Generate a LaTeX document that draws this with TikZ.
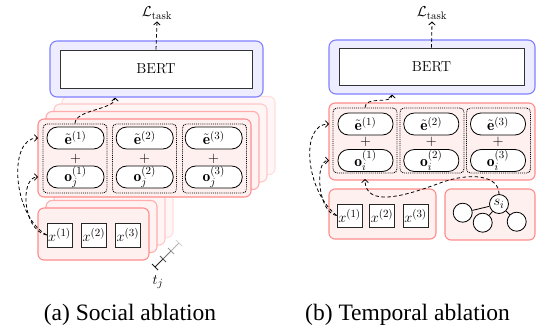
\documentclass[tikz,border=0pt]{standalone}
\usepackage{fontspec}
\newfontfamily\capfont{Liberation Serif}
\usetikzlibrary{arrows.meta}
\tikzset{
  mathtxt/.style={font=\fontsize{15.5}{18}\selectfont},
  rbase/.style={rounded corners=6pt, line width=1.1pt, inner sep=0pt, outer sep=0pt},
  redfront/.style={rbase, draw=red!45, fill=red!6},
  redback1/.style={rbase, draw=red!32, fill=red!5},
  redback2/.style={rbase, draw=red!22, fill=red!4},
  redback3/.style={rbase, draw=red!13, fill=red!3},
  bluebox/.style={rounded corners=7pt, line width=1.1pt, draw=blue!50, fill=blue!7, inner sep=0pt},
  bertbox/.style={draw=black!80, fill=white, line width=0.8pt, inner sep=0pt, font=\fontsize{14.5}{17}\selectfont},
  dotbox/.style={draw=black, densely dotted, line width=0.9pt, rounded corners=4pt, inner sep=0pt, minimum width=64pt},
  pill/.style={draw=black, fill=white, line width=0.8pt, rounded corners=10.5pt, minimum height=22pt, inner sep=0pt, mathtxt},
  xbox/.style={draw=black!85, fill=white, line width=0.8pt, minimum width=25pt, minimum height=24pt, inner sep=0pt, mathtxt},
  gnode/.style={circle, draw=black, fill=white, line width=0.8pt, minimum size=19pt, inner sep=0pt, mathtxt},
  dasharrow/.style={draw=black, line width=0.8pt, dash pattern=on 3.5pt off 2.5pt, -{Straight Barb[length=3pt,width=6.5pt]}},
  plusnode/.style={mathtxt, inner sep=0pt},
  captxt/.style={font=\capfont\fontsize{23.5}{26}\selectfont, anchor=base, inner sep=0pt}
}
\begin{document}
\begin{tikzpicture}[x=1pt,y=-1pt]
\useasboundingbox (0,0) rectangle (537,335);

%% ================= LEFT PANEL =================
% lower stack (inputs)
\node[redback3, minimum width=111pt, minimum height=52pt] (ll3) at (93.5+24,234-22.5) {};
\node[redback2, minimum width=111pt, minimum height=52pt] (ll2) at (93.5+16,234-15) {};
\node[redback1, minimum width=111pt, minimum height=52pt] (ll1) at (93.5+8,234-7.5) {};
\node[redfront, minimum width=111pt, minimum height=52pt] (llf) at (93.5,234) {};
\node[xbox] (lx1) at (59.5,235) {$x^{(1)}$};
\node[xbox] (lx2) at (93.8,235) {$x^{(2)}$};
\node[xbox] (lx3) at (127.8,235) {$x^{(3)}$};

% time axis
\coordinate (t0) at (155,267);
\coordinate (t1) at (163,259);
\coordinate (t2) at (171,251);
\coordinate (t3) at (179,243);
\draw[line width=0.8pt, black!85] (t0) -- (t1);
\draw[line width=0.8pt, black!55] (t1) -- (t2);
\draw[line width=0.8pt, black!30] (t2) -- (t3);
\draw[line width=0.8pt, black!90] (t0) +(-3,-3) -- +(3,3);
\draw[line width=0.8pt, black!65] (t1) +(-3,-3) -- +(3,3);
\draw[line width=0.8pt, black!40] (t2) +(-3,-3) -- +(3,3);
\draw[line width=0.8pt, black!18] (t3) +(-3,-3) -- +(3,3);
\node[mathtxt] (tj) at (158,282) {$t_j$};

% upper stack (embeddings)
\node[redback3, minimum width=213pt, minimum height=78pt] (lu3) at (144.5+24,158-22.5) {};
\node[redback2, minimum width=213pt, minimum height=78pt] (lu2) at (144.5+16,158-15) {};
\node[redback1, minimum width=213pt, minimum height=78pt] (lu1) at (144.5+8,158-7.5) {};
\node[redfront, minimum width=213pt, minimum height=78pt] (luf) at (144.5,158) {};

\node[dotbox, minimum height=69pt] (ld1) at (75,158.5) {};
\node[dotbox, minimum height=69pt] (ld2) at (144.5,158.5) {};
\node[dotbox, minimum height=69pt] (ld3) at (214.5,158.5) {};
\node[pill, minimum width=57pt] (lpe1) at (75.5,138) {$\tilde{\mathbf{e}}^{(1)}$};
\node[pill, minimum width=57pt] (lpe2) at (144.7,138) {$\tilde{\mathbf{e}}^{(2)}$};
\node[pill, minimum width=57pt] (lpe3) at (213.7,138) {$\tilde{\mathbf{e}}^{(3)}$};
\node[plusnode] (lpl1) at (75.5,158.5) {$+$};
\node[plusnode] (lpl2) at (144.7,158.5) {$+$};
\node[plusnode] (lpl3) at (213.7,158.5) {$+$};
\node[pill, minimum width=57pt] (lpo1) at (75.5,177) {$\mathbf{o}_j^{(1)}$};
\node[pill, minimum width=57pt] (lpo2) at (144.7,177) {$\mathbf{o}_j^{(2)}$};
\node[pill, minimum width=57pt] (lpo3) at (213.7,177) {$\mathbf{o}_j^{(3)}$};

% BERT
\node[bluebox, minimum width=213pt, minimum height=56pt] (lblue) at (156.5,69) {};
\node[bertbox, minimum width=192pt, minimum height=38pt] (lbert) at (156,69) {BERT};
\node[mathtxt, inner sep=0pt] (lL) at (157,13) {$\mathcal{L}_{\mathrm{task}}$};
\draw[dasharrow] (lbert.north) -- ([yshift=-2pt]lL.south);

% connectors
\coordinate (lbt) at (115,0 |- lblue.south);
\draw[dasharrow] (ld1.north) .. controls +(0,-14) and +(0,12) .. (lbt);
\draw[dasharrow] (lx1.west) .. controls (12,215) and (8,138) .. (luf.west |- lpe1.west);
\draw[dasharrow] (lx1.west) .. controls (22,230) and (20,177) .. (luf.west |- lpo1.west);

\node[captxt] (capa) at (130,320) {(a) Social ablation};

%% ================= RIGHT PANEL =================
\node[redfront, minimum width=107pt, minimum height=50pt] (rlf) at (382.5,214) {};
\node[xbox, minimum height=23pt] (rx1) at (349.5,215.5) {$x^{(1)}$};
\node[xbox, minimum height=23pt] (rx2) at (382,215.5) {$x^{(2)}$};
\node[xbox, minimum height=23pt] (rx3) at (415.5,215.5) {$x^{(3)}$};

\node[redfront, minimum width=90pt, minimum height=51pt] (rgf) at (490,214.5) {};
\node[gnode] (g1) at (462.7,212.7) {};
\node[gnode] (g2) at (482.7,222.7) {};
\node[gnode] (g3) at (516.7,221.7) {};
\node[gnode] (si) at (499,204) {$s_i$};
\draw[line width=0.8pt] (si) -- (g1);
\draw[line width=0.8pt] (si) -- (g2);
\draw[line width=0.8pt] (si) -- (g3);

\node[redfront, minimum width=206pt, minimum height=77pt] (ruf) at (432,141.5) {};
\node[dotbox, minimum height=65pt] (rd1) at (365,140.5) {};
\node[dotbox, minimum height=65pt] (rd2) at (432,140.5) {};
\node[dotbox, minimum height=65pt] (rd3) at (498.5,140.5) {};
\node[pill, minimum width=55pt] (rpe1) at (365.5,124) {$\tilde{\mathbf{e}}^{(1)}$};
\node[pill, minimum width=55pt] (rpe2) at (431.3,124) {$\tilde{\mathbf{e}}^{(2)}$};
\node[pill, minimum width=55pt] (rpe3) at (498,124) {$\tilde{\mathbf{e}}^{(3)}$};
\node[plusnode] (rpl1) at (365.5,142) {$+$};
\node[plusnode] (rpl2) at (431.3,142) {$+$};
\node[plusnode] (rpl3) at (498,142) {$+$};
\node[pill, minimum width=55pt] (rpo1) at (365.5,160.5) {$\mathbf{o}_i^{(1)}$};
\node[pill, minimum width=55pt] (rpo2) at (431.3,160.5) {$\mathbf{o}_i^{(2)}$};
\node[pill, minimum width=55pt] (rpo3) at (498,160.5) {$\mathbf{o}_i^{(3)}$};

\node[bluebox, minimum width=206pt, minimum height=54pt] (rblue) at (432,67) {};
\node[bertbox, minimum width=185pt, minimum height=37pt] (rbert) at (431.5,66.5) {BERT};
\node[mathtxt, inner sep=0pt] (rL) at (432,13) {$\mathcal{L}_{\mathrm{task}}$};
\draw[dasharrow] (rbert.north) -- ([yshift=-2pt]rL.south);

\coordinate (rbt) at (392,0 |- rblue.south);
\draw[dasharrow] (rd1.north) .. controls +(0,-12) and +(0,10) .. (rbt);
\draw[dasharrow] (rx1.west) .. controls (305,190) and (300,124) .. (ruf.west |- rpe1.west);
\draw[dasharrow] (rx1.west) .. controls (318,213) and (314,160.5) .. (ruf.west |- rpo1.west);
\coordinate (rin) at (rd1 |- ruf.south);
\draw[dasharrow] (si.north) .. controls (499,175) and (470,172) .. (440,183)
   .. controls (405,196) and (365,208) .. ([yshift=1pt]rin);

\node[captxt] (capb) at (407.5,320) {(b) Temporal ablation};
\end{tikzpicture}
\end{document}
